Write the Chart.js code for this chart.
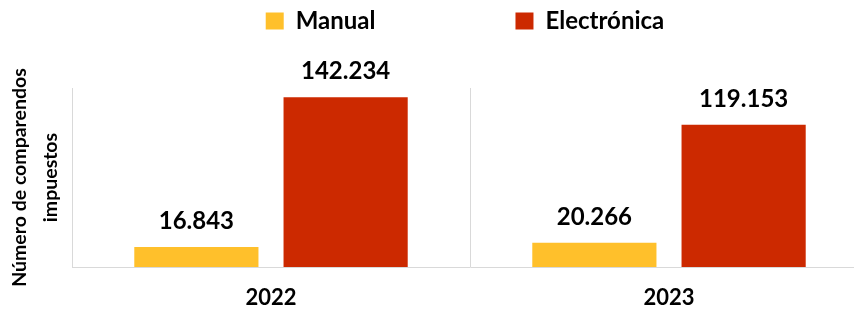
<!DOCTYPE html>
<html>
<head>
<meta charset="utf-8">
<script src="https://cdn.jsdelivr.net/npm/chart.js@4"></script>
<style>
  html, body { margin: 0; padding: 0; background: #fff; overflow: hidden; }
  #wrap { position: relative; width: 868px; height: 314px; }
</style>
</head>
<body>
<div id="wrap"><canvas id="chart"></canvas></div>
<script>
// datos
const years = ["2022", "2023"];
const manual = [16843, 20266];
const electronica = [142234, 119153];
const seriesNames = ["Manual", "Electrónica"];
const yTitle = ["Número de comparendos", "impuestos"];

const FONT = "Lato";
const LEGEND_GAP = 140;

// formato 142.234
function fmt(v) {
  return String(v).replace(/\B(?=(\d{3})+(?!\d))/g, ".");
}

// etiquetas encima de cada barra
const barLabels = {
  id: "barLabels",
  afterDatasetsDraw(chart) {
    const ctx = chart.ctx;
    ctx.save();
    ctx.font = "bold 24px " + FONT;
    ctx.fillStyle = "#000";
    ctx.textAlign = "center";
    ctx.textBaseline = "alphabetic";
    chart.data.datasets.forEach((ds, i) => {
      chart.getDatasetMeta(i).data.forEach((bar, j) => {
        ctx.fillText(fmt(ds.data[j]), bar.x, bar.y - 18);
      });
    });
    ctx.restore();
  },
};

// altura fija de la leyenda y un pequeño corrimiento
const legendBox = {
  id: "legendBox",
  beforeInit(chart) {
    const fit = chart.legend.fit;
    chart.legend.fit = function () {
      fit.call(this);
      this.height = 88;
    };
  },
  afterLayout(chart) {
    const lg = chart.legend;
    lg.left += 31;
    lg.right += 31;
    lg.top += 9 - LEGEND_GAP; // solo el borde superior, para que no recorte
  },
};

new Chart(document.getElementById("chart").getContext("2d"), {
  type: "bar",
  data: {
    labels: years,
    datasets: [
      {
        label: seriesNames[0],
        data: manual,
        backgroundColor: "#FFC02B",
      },
      {
        label: seriesNames[1],
        data: electronica,
        backgroundColor: "#CC2900",
      },
    ],
  },
  options: {
    responsive: true,
    maintainAspectRatio: false,
    animation: false,
    layout: { padding: 0 },
    datasets: {
      bar: { categoryPercentage: 0.75, barPercentage: 0.832 },
    },
    scales: {
      x: {
        afterFit(scale) {
          scale.height = 47;
        },
        grid: { color: "#D9D9D9", offset: true, drawTicks: false },
        border: { color: "#D9D9D9" },
        ticks: {
          padding: 18,
          color: "#000",
          font: { family: FONT, size: 22, weight: "bold" },
        },
      },
      y: {
        min: 0,
        max: 150000,
        afterFit(scale) {
          scale.width = 72;
        },
        grid: { display: false, drawTicks: false },
        border: { display: true, color: "#D9D9D9" },
        ticks: { display: false },
        title: {
          display: true,
          text: yTitle,
          color: "#000",
          padding: { top: 5, bottom: 7 },
          font: { family: FONT, size: 19.5, weight: "bold", lineHeight: 1.55 },
        },
      },
    },
    plugins: {
      legend: {
        position: "top",
        labels: {
          boxWidth: 18,
          boxHeight: 17,
          padding: LEGEND_GAP,
          color: "#000",
          font: { family: FONT, size: 24, weight: "bold" },
        },
      },
      tooltip: { enabled: false },
    },
  },
  plugins: [barLabels, legendBox],
});
</script>
</body>
</html>
